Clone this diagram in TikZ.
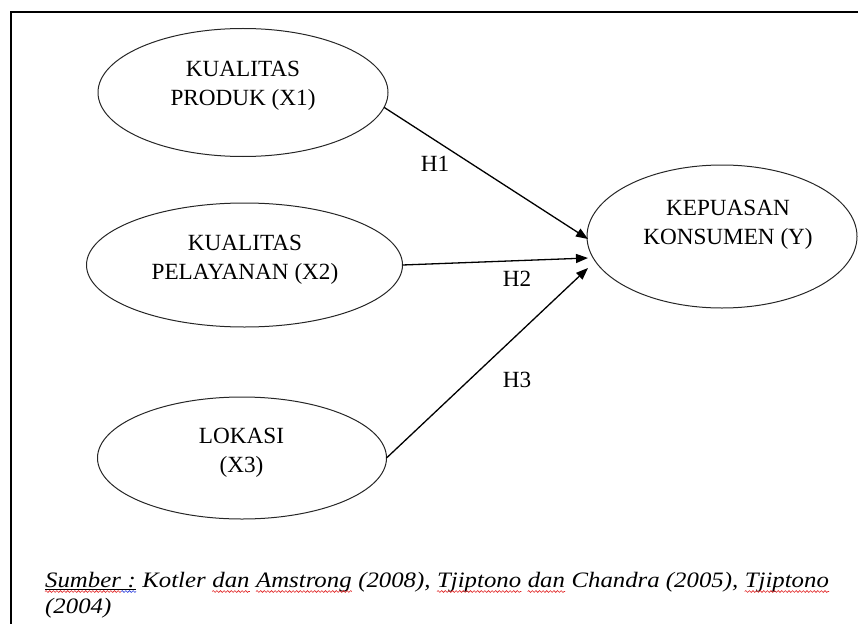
\documentclass[tikz,border=0pt]{standalone}
\usepackage{fontspec}
\setmainfont{Liberation Serif}
\newfontfamily\capfont[FakeStretch=1.127]{Liberation Serif}
\usetikzlibrary{arrows.meta,calc,shapes.geometric,decorations.pathmorphing}
\definecolor{wavered}{RGB}{225,35,35}
\definecolor{waveblue}{RGB}{40,60,220}
\begin{document}
\begin{tikzpicture}[x=1pt,y=-1pt,
  ell/.style={ellipse, draw=black!85, line width=1pt, inner sep=0pt, outer sep=0pt},
  lbl/.style={align=center, font=\fontsize{23.2}{29}\selectfont, inner sep=0pt},
  hyp/.style={font=\fontsize{23.2}{27}\selectfont, inner sep=0pt},
  capt/.style={font=\capfont\fontsize{22}{26}\selectfont\itshape, inner sep=0pt, anchor=base west},
  nextw/.style={capt, xshift=6.2pt},
  conn/.style={line width=1.3pt, -{Triangle[length=12pt,width=9pt]}},
  wave/.style={line width=0.6pt, decorate, decoration={snake, segment length=3.6pt, amplitude=0.9pt}}]
\useasboundingbox (0,0) rectangle (858,623);
\clip (0,0) rectangle (858,623);
\draw[line width=2pt] (11,630) -- (11,12) -- (870,12);

\node[ell, minimum width=290pt, minimum height=128pt] (e1) at (243,92.5) {};
\node[ell, minimum width=316pt, minimum height=124pt] (e2) at (244.5,265) {};
\node[ell, minimum width=289pt, minimum height=122pt] (e3) at (242,458) {};
\node[ell, minimum width=270pt, minimum height=143pt] (e4) at (722,236.5) {};

\node[lbl] (t1) at (243,85.4) {KUALITAS\\PRODUK (X1)};
\node[lbl] (t2) at (245,259.4) {KUALITAS\\PELAYANAN (X2)};
\node[lbl] (t3) at (241.5,452.4) {LOKASI\\(X3)};
\node[lbl] (t4) at (728,224.4) {KEPUASAN\\KONSUMEN (Y)};

\draw[conn] (e1.-6.5) -- ($(e4.west)+(1,2.5)$);
\draw[conn] (e2.-0.7) -- ($(e4.west)+(1,21.5)$);
\draw[conn] (e3.east) -- ($(e4.west)+(1,31.5)$);

\node[hyp] (h1) at (435,163.5) {H1};
\node[hyp] (h2) at (517,278.5) {H2};
\node[hyp] (h3) at (517,380) {H3};

\node[capt] (s1) at (45,587) {Sumber};
\node[nextw] (s2) at (s1.base east) {:};
\node[nextw] (s3) at (s2.base east) {Kotler};
\node[nextw] (s4) at (s3.base east) {dan};
\node[nextw] (s5) at (s4.base east) {Amstrong};
\node[nextw] (s6) at (s5.base east) {(2008),};
\node[nextw] (s7) at (s6.base east) {Tjiptono};
\node[nextw] (s8) at (s7.base east) {dan};
\node[nextw] (s9) at (s8.base east) {Chandra (2005),};
\node[nextw] (s10) at (s9.base east) {Tjiptono};
\node[capt] (c2) at (45,613) {(2004)};

\draw[line width=0.9pt] ($(s1.base west)+(0,2)$) -- ($(s2.base east)+(0,2)$);
\draw[wave, wavered] ($(s1.base west)+(0,4.5)$) -- ($(s1.base east)+(0,4.5)$);
\draw[wave, waveblue] ($(s1.base east)+(0,4.5)$) -- ($(s2.base east)+(0,4.5)$);
\foreach \w in {s4,s5,s7,s8,s10}
  \draw[wave, wavered] ($(\w.base west)+(0,4.5)$) -- ($(\w.base east)+(0,4.5)$);
\end{tikzpicture}
\end{document}
